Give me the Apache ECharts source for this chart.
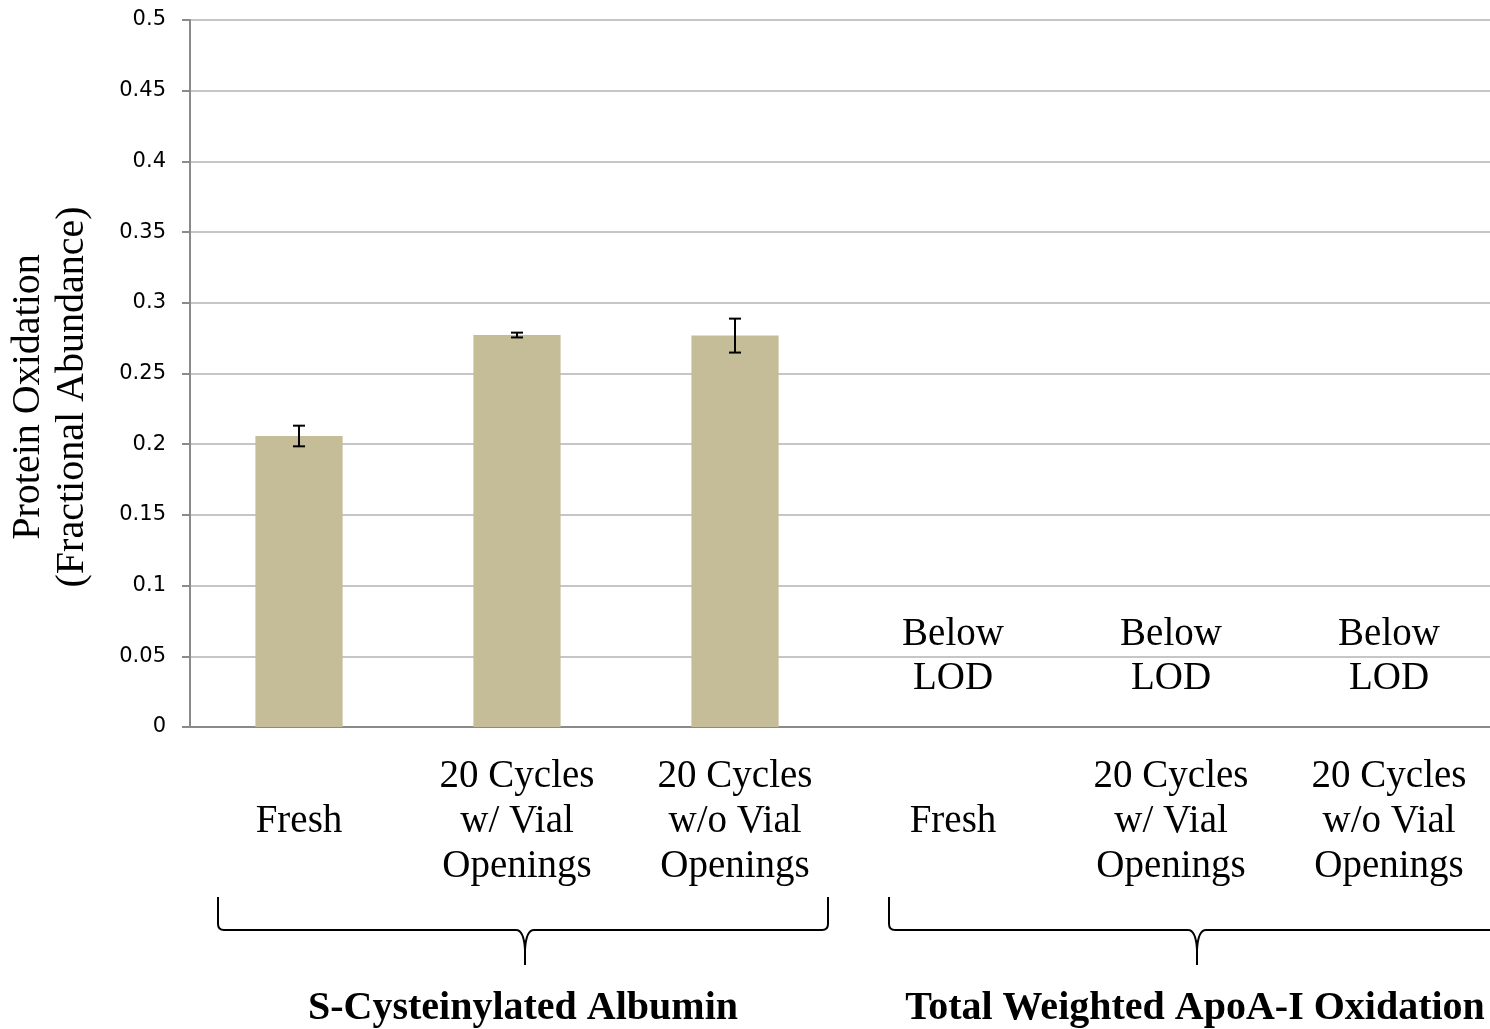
<!DOCTYPE html>
<html>
<head>
<meta charset="utf-8">
<script src="https://cdn.jsdelivr.net/npm/echarts@6/dist/echarts.min.js"></script>
<style>html,body{margin:0;padding:0;background:#fff}#c{width:1490px;height:1029px}</style>
</head>
<body>
<div id="c"></div>
<script>
const categories = [' \nFresh\n ', '20 Cycles\nw/ Vial\nOpenings', '20 Cycles\nw/o Vial\nOpenings',
                    ' \nFresh\n ', '20 Cycles\nw/ Vial\nOpenings', '20 Cycles\nw/o Vial\nOpenings'];
const values = [0.2058, 0.2772, 0.2768, null, null, null];
const errors = [0.0073, 0.0017, 0.012, null, null, null];
const belowLOD = [false, false, false, true, true, true];
const lodLabelLevel = 0.0495;
const yTicks = { min: 0, max: 0.5, interval: 0.05 };
const groups = ['S-Cysteinylated Albumin', 'Total Weighted ApoA-I Oxidation'];
const yTitle = 'Protein Oxidation\n(Fractional Abundance)';

const SERIF = '"Liberation Serif", "DejaVu Serif", serif';
const chart = echarts.init(document.getElementById('c'), null, { renderer: 'canvas' });

const errData = values.map((v, i) => v == null ? null : [i, v - errors[i], v + errors[i]]).filter(d => d);
const lodData = belowLOD.map((b, i) => b ? [i, lodLabelLevel] : null).filter(d => d);

function brace(x1, x2, xc, yTop, yMid, yTip) {
  const r = 6;
  const st = { stroke: '#000', lineWidth: 2, fill: null };
  const L = (a, b, c, d) => ({ type: 'line', shape: { x1: a, y1: b, x2: c, y2: d }, style: st });
  const Q = (a, b, cx, cy, c, d) => ({ type: 'bezierCurve', shape: { x1: a, y1: b, cpx1: cx, cpy1: cy, x2: c, y2: d }, style: st });
  return {
    type: 'group', children: [
      L(x1, yTop, x1, yMid - r),
      Q(x1, yMid - r, x1, yMid, x1 + r, yMid),
      L(x1 + r, yMid, xc - 9, yMid),
      Q(xc - 9, yMid, xc - 1, yMid, xc, yMid + 20),
      L(xc, yMid + 20, xc, yTip),
      Q(xc, yMid + 20, xc + 1, yMid, xc + 9, yMid),
      L(xc + 9, yMid, x2 - r, yMid),
      Q(x2 - r, yMid, x2, yMid, x2, yMid - r),
      L(x2, yMid - r, x2, yTop)
    ]
  };
}

chart.setOption({
  animation: false,
  backgroundColor: '#ffffff',
  grid: { left: 190, width: 1308, top: 20, bottom: 302, outerBoundsMode: 'none', containLabel: false },
  xAxis: {
    type: 'category',
    data: categories,
    axisLine: { lineStyle: { color: '#8a8a8a', width: 2 } },
    axisTick: { show: false },
    axisLabel: {
      interval: 0, margin: 27, fontFamily: SERIF, fontSize: 39, lineHeight: 45,
      color: '#000', align: 'center'
    },
    splitLine: { show: false }
  },
  yAxis: {
    type: 'value',
    min: yTicks.min, max: yTicks.max, interval: yTicks.interval,
    axisLine: { show: true, lineStyle: { color: '#8a8a8a', width: 2 } },
    axisTick: { show: true, length: 8, lineStyle: { color: '#8a8a8a', width: 2 } },
    axisLabel: { margin: 24, fontFamily: '"DejaVu Sans", sans-serif', fontSize: 21, color: '#000' },
    splitLine: { show: true, lineStyle: { color: '#c6c6c6', width: 2 } }
  },
  series: [
    {
      type: 'bar', data: values, barWidth: '40%',
      itemStyle: { color: '#c4bd97' }
    },
    {
      type: 'custom',
      data: errData,
      z: 5,
      renderItem: function (params, api) {
        const x = api.value(0);
        const lo = api.coord([x, api.value(1)]);
        const hi = api.coord([x, api.value(2)]);
        const w = 6;
        const style = { stroke: '#000', lineWidth: 2 };
        return {
          type: 'group', children: [
            { type: 'line', shape: { x1: lo[0], y1: lo[1], x2: hi[0], y2: hi[1] }, style },
            { type: 'line', shape: { x1: lo[0] - w, y1: lo[1], x2: lo[0] + w, y2: lo[1] }, style },
            { type: 'line', shape: { x1: hi[0] - w, y1: hi[1], x2: hi[0] + w, y2: hi[1] }, style }
          ]
        };
      }
    },
    {
      type: 'custom',
      data: lodData,
      z: 6,
      silent: true,
      renderItem: function (params, api) {
        const p = api.coord([api.value(0), api.value(1)]);
        return {
          type: 'text', x: p[0], y: p[1],
          style: {
            text: 'Below\nLOD', fontFamily: SERIF, fontSize: 39, lineHeight: 44,
            fill: '#000', align: 'center', verticalAlign: 'middle'
          }
        };
      }
    }
  ],
  graphic: [
    {
      type: 'text', x: 50, y: 397, rotation: Math.PI / 2,
      style: {
        text: yTitle, fontFamily: SERIF, fontSize: 40, lineHeight: 44, fill: '#000',
        align: 'center', verticalAlign: 'middle'
      }
    },
    brace(218, 828, 525, 897, 930, 965),
    brace(889, 1505, 1197, 897, 930, 965),
    {
      type: 'text', x: 523, y: 1009,
      style: { text: groups[0], fontFamily: SERIF, fontWeight: 'bold', fontSize: 40, fill: '#000', align: 'center', verticalAlign: 'middle' }
    },
    {
      type: 'text', x: 1195, y: 1009,
      style: { text: groups[1], fontFamily: SERIF, fontWeight: 'bold', fontSize: 40, fill: '#000', align: 'center', verticalAlign: 'middle' }
    }
  ]
});
</script>
</body>
</html>
